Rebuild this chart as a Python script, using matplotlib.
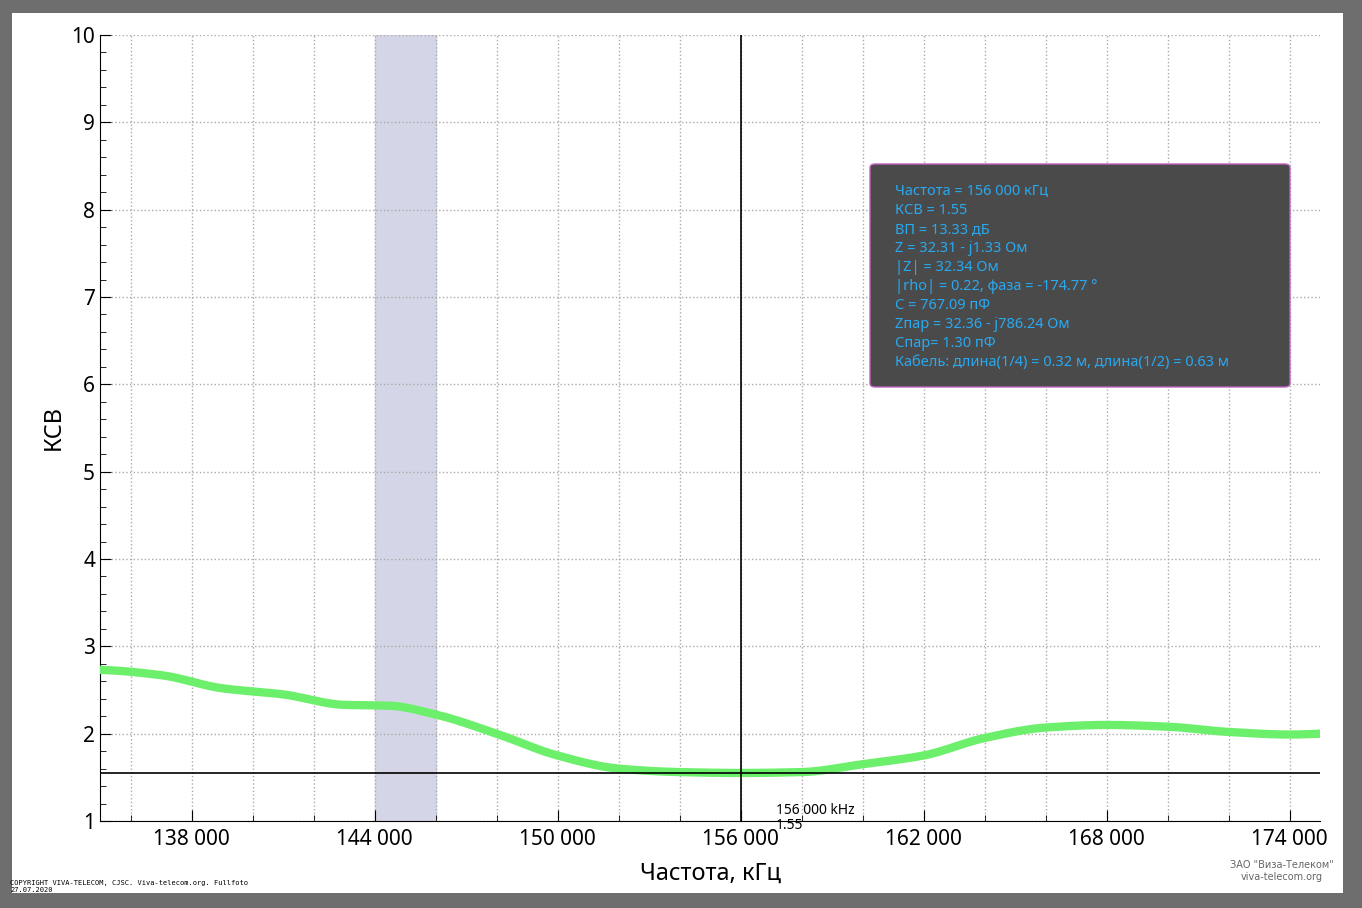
import matplotlib
matplotlib.use("Agg")
import matplotlib.pyplot as plt
import numpy as np
from matplotlib.patches import FancyBboxPatch

freq = [135000,137000,139000,141000,143000,144500,146000,148000,150000,152000,154000,156000,158000,160000,162000,164000,166000,168000,170000,172000,174000,175000]
swr = [2.73,2.67,2.52,2.45,2.33,2.32,2.22,2.0,1.75,1.6,1.56,1.55,1.56,1.65,1.75,1.95,2.07,2.1,2.08,2.02,1.99,2.0]
xticks = [138000,144000,150000,156000,162000,168000,174000]
xlabels = ["138 000","144 000","150 000","156 000","162 000","168 000","174 000"]
band = (144000, 146000)
marker_f, marker_swr = 156000, 1.55
info = ["Частота = 156 000 кГц","КСВ = 1.55","ВП = 13.33 дБ","Z = 32.31 - j1.33 Ом","|Z| = 32.34 Ом",
        "|rho| = 0.22, фаза = -174.77 °","C = 767.09 пФ","Zпар = 32.36 - j786.24 Ом","Спар= 1.30 пФ",
        "Кабель: длина(1/4) = 0.32 м, длина(1/2) = 0.63 м"]

W, H = 1362, 908
fig = plt.figure(figsize=(W/100, H/100), dpi=100, facecolor="#6e6e6e")
bg = fig.add_axes([12/W, 15/H, 1331/W, 880/H], zorder=-5)
bg.set_facecolor("white"); bg.set_xticks([]); bg.set_yticks([])
for s in bg.spines.values(): s.set_visible(False)
ax = fig.add_axes([100/W, 1-821/H, 1220/W, 786/H])
ax.patch.set_alpha(0)
ax.set_xlim(135000, 175000); ax.set_ylim(1, 10)
ax.axvspan(*band, color="#d5d5e8", zorder=1)
xs = np.linspace(135000, 175000, 400)
try:
    from scipy.interpolate import PchipInterpolator
    ys = PchipInterpolator(freq, swr)(xs)
except Exception:
    ys = np.interp(xs, freq, swr)
ax.plot(xs, ys, color="#6cf06c", lw=6, solid_capstyle="round", zorder=3)
ax.axvline(marker_f, color="black", lw=1.2, zorder=4)
ax.axhline(marker_swr, color="black", lw=1.2, zorder=4)
ax.text(marker_f+1150, 1.03, "156 000 kHz", fontsize=10, va="bottom", fontfamily="Noto Sans")
ax.text(marker_f+1150, 1.04, "1.55", fontsize=10, va="top", fontfamily="Noto Sans")
ax.set_xticks(xticks); ax.set_xticklabels(xlabels, fontsize=15, fontfamily="Noto Sans")
ax.set_yticks(range(1, 11)); ax.set_yticklabels([str(i) for i in range(1, 11)], fontsize=15, fontfamily="Noto Sans")
ax.set_xticks(np.arange(136000, 175000, 2000), minor=True)
ax.set_yticks(np.arange(1, 10.01, 0.2), minor=True)
ax.tick_params(axis="x", pad=6)
ax.tick_params(direction="in", length=8)
ax.tick_params(which="minor", direction="in", length=4)
ax.grid(True, which="major", color="#aaaaaa", ls=":", lw=1)
ax.grid(True, which="minor", axis="x", color="#aaaaaa", ls=":", lw=1)
for s in ["top", "right"]: ax.spines[s].set_visible(False)
ax.set_xlabel("Частота, кГц", fontsize=17, labelpad=8, fontfamily="Noto Sans")
ax.set_ylabel("КСВ", fontsize=17, fontfamily="Noto Sans")
box = FancyBboxPatch((870/W, 1-387/H), 420/W, 223/H, boxstyle="round,pad=0,rounding_size=0.004",
                     transform=fig.transFigure, facecolor="#4a4a4a", edgecolor="#c060c0", lw=1, zorder=10)
fig.patches.append(box)
for i, t in enumerate(info):
    fig.text(895/W, 1-(191+19.1*i)/H, t, color="#29a9f0", fontsize=10.5, va="center", fontfamily="Noto Sans", zorder=11)
fig.text(10/W, 1-880/H, "COPYRIGHT VIVA-TELECOM, CJSC. Viva-telecom.org. Fullfoto\n27.07.2020", fontsize=5, fontfamily="DejaVu Sans Mono", va="top")
fig.text(1282/W, 1-871/H, "ЗАО \"Виза-Телеком\"\nviva-telecom.org", fontsize=7, color="#666666", ha="center", va="center")
fig.savefig("out.png", dpi=100, facecolor=fig.get_facecolor())
